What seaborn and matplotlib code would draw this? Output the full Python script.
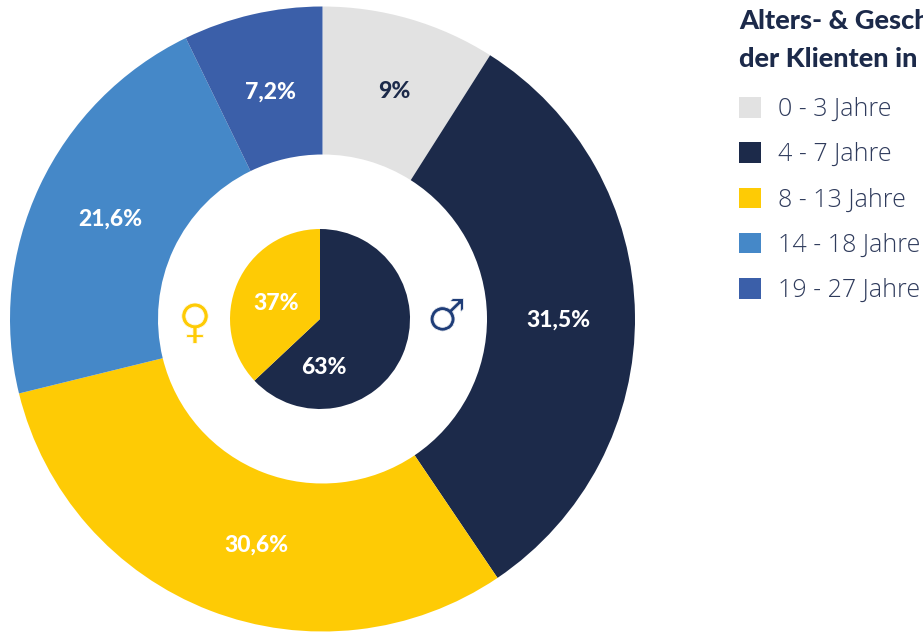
import matplotlib
matplotlib.use("Agg")
import matplotlib.pyplot as plt
import matplotlib.patheffects as pe
import seaborn as sns

age_groups = ["0 - 3 Jahre", "4 - 7 Jahre", "8 - 13 Jahre", "14 - 18 Jahre", "19 - 27 Jahre"]
age_shares = [9, 31.5, 30.6, 21.6, 7.2]
age_labels = ["9%", "31,5%", "30,6%", "21,6%", "7,2%"]
gender_shares = [63, 37]
gender_labels = ["63%", "37%"]
title_lines = ["Alters- & Gesch", "der Klienten in"]

NAVY = "#1c2a4a"
YELLOW = "#fecb05"
sns.set_theme(style="white", rc={"font.family": ["Lato", "DejaVu Sans"]})
palette = sns.color_palette(["#e2e2e2", NAVY, YELLOW, "#4588c8", "#3b5fa9"])
label_colors = [NAVY, "white", "white", "white", "white"]
label_xy = [(394, 540), (558.5, 312), (256, 87), (110, 413), (271, 540)]

W, H = 923, 632
fig = plt.figure(figsize=(W / 100, H / 100), dpi=100, facecolor="white")
ax = fig.add_axes([0, 0, 1, 1])

wedges, _ = ax.pie(
    age_shares, colors=palette, startangle=90, counterclock=False,
    center=(322.5, 313), radius=312.5,
    wedgeprops={"width": 148, "linewidth": 0},
)
for label, (x, y), c in zip(age_labels, label_xy, label_colors):
    ax.text(x, y, label, color=c, fontsize=16.5, fontweight="black", ha="center", va="center")

ax.pie(gender_shares, colors=[NAVY, YELLOW], startangle=90, counterclock=False,
       center=(320, 313), radius=90, wedgeprops={"linewidth": 0})

for label, x, y in zip(gender_labels, (324, 276), (265, 329)):
    ax.text(x, y, label, color="white", fontsize=16.5, fontweight="black", ha="center", va="center")

thin = [pe.Normal(), pe.Stroke(linewidth=0.6, foreground="white")]
ax.text(446.5, 314, "\u2642", color="#1f3d78", fontsize=32, family="DejaVu Sans",
        ha="center", va="center", path_effects=thin)
ax.text(195, 307, "\u2640", color=YELLOW, fontsize=34, family="DejaVu Sans",
        ha="center", va="center", path_effects=thin)

ax.set_xlim(0, W)
ax.set_ylim(0, H)
ax.set_aspect("equal")
ax.axis("off")

for line, y in zip(title_lines, (611, 573)):
    ax.text(739, y, line, color=NAVY, fontsize=19.5, fontweight="black", ha="left", va="center", clip_on=True)

leg = ax.legend(
    wedges, age_groups, loc="upper left", bbox_to_anchor=(739, 535),
    bbox_transform=ax.transData, frameon=False,
    handlelength=0.88, handleheight=0.88, handletextpad=0.68,
    labelspacing=0.81, borderpad=0, borderaxespad=0, labelcolor="#2f3b5c",
    prop={"family": "Open Sans", "weight": "light", "size": 18},
)

fig.savefig("out.png", dpi=100)
